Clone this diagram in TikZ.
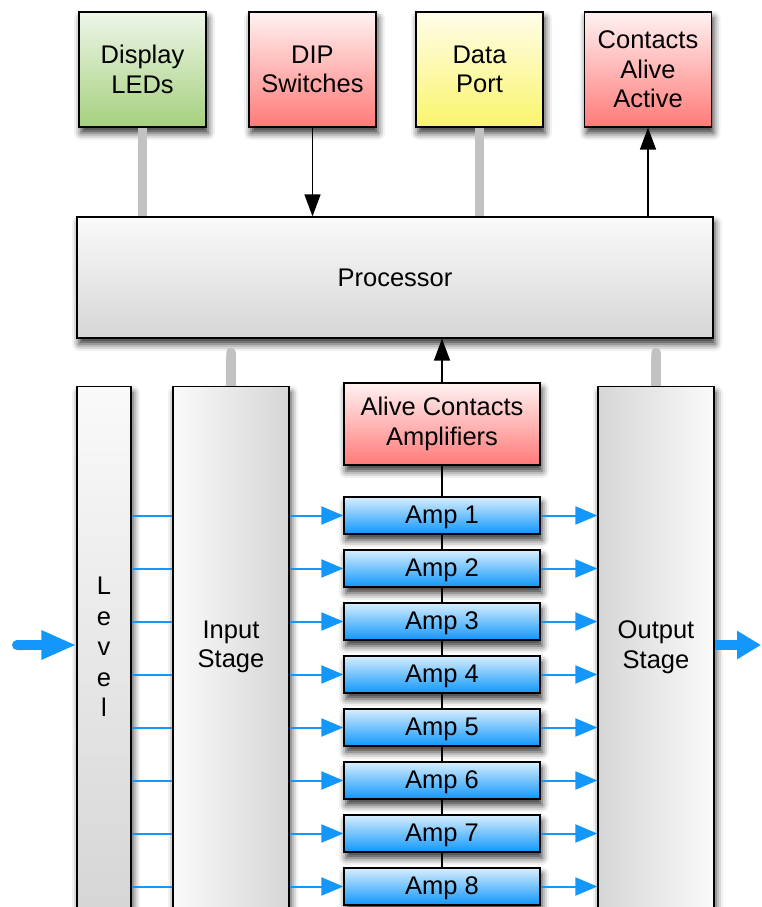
\documentclass[tikz,border=0pt]{standalone}
\usepackage{fontspec}
\setmainfont{Liberation Sans}
\usetikzlibrary{arrows.meta,shadows.blur}

\definecolor{ledtop}{HTML}{EEF6E9}
\definecolor{ledbot}{HTML}{A5D07D}
\definecolor{redtop}{HTML}{FFF2F2}
\definecolor{redbot}{HTML}{FF7A78}
\definecolor{yeltop}{HTML}{FFFDEA}
\definecolor{yelbot}{HTML}{FAF56B}
\definecolor{graytop}{HTML}{FAFAFA}
\definecolor{graybot}{HTML}{D6D6D6}
\definecolor{amptop}{HTML}{D8EEFE}
\definecolor{ampbot}{HTML}{0F97FC}
\definecolor{sigblue}{HTML}{1497FB}
\definecolor{bargray}{HTML}{C2C2C2}

\tikzset{
  box/.style={draw=black, line width=1.2pt, align=center, inner sep=2pt,
    font=\fontsize{25.5}{29.5}\selectfont,
    blur shadow={shadow xshift=2pt, shadow yshift=-6pt, shadow blur radius=7pt, shadow opacity=80}},
  topbox/.style={box, minimum width=127pt, minimum height=115pt},
  stagebox/.style={box, anchor=north, minimum width=116pt, minimum height=521pt},
  ampbox/.style={box, top color=amptop, bottom color=ampbot, minimum width=196pt, minimum height=37pt, text depth=1pt},
  bus/.style={line width=9.5pt, draw=bargray},
  sig/.style={line width=2pt, draw=sigblue},
  sigarrow/.style={sig, -{Triangle[length=22pt,width=18pt]}},
  ctl/.style={line width=1.4pt, -{Triangle[length=22pt,width=16pt]}},
  bigarrow/.style={line width=10pt, draw=sigblue, fill=sigblue}
}

\begin{document}
\begin{tikzpicture}[x=1pt,y=-1pt]
    \useasboundingbox (0,0) rectangle (761,907);

    % Peripherals
    \node[topbox, top color=ledtop, bottom color=ledbot] (leds) at (142.5,69.5) {Display\\LEDs};
    \node[topbox, top color=redtop, bottom color=redbot] (dip) at (312.5,69.5) {DIP\\Switches};
    \node[topbox, top color=yeltop, bottom color=yelbot] (port) at (479.5,69.5) {Data\\Port};
    \node[topbox, top color=redtop, bottom color=redbot] (alive) at (648,69.5) {Contacts\\Alive\\Active};

    % Processor
    \node[box, top color=graytop, bottom color=graybot, minimum width=636pt, minimum height=121pt] (proc) at (395,277.5) {Processor};

    % Stages
    \node[stagebox, minimum width=54pt, top color=graytop, bottom color=graybot,
        font=\fontsize{25.5}{30.5}\selectfont] (lvl) at (104,386) {L\\e\\v\\e\\l};
    \node[stagebox, left color=graytop, right color=graybot] (inp) at (231,386) {Input\\Stage};
    \node[stagebox, left color=graybot, right color=graytop] (outp) at (656,386) {Output\\Stage};

    % Amplifiers
    \node[box, top color=redtop, bottom color=redbot, minimum width=196pt, minimum height=82pt] (aca) at (442,424) {Alive Contacts\\Amplifiers};
    \foreach \i in {1,...,8}
        \node[ampbox] (amp\i) at (442,{515.5+53*(\i-1)}) {Amp \i};

    % Amp chain
    \draw[line width=1.4pt] (aca) -- (amp1);
    \foreach \i [count=\j from 2] in {1,...,7}
        \draw[line width=1.4pt] (amp\i) -- (amp\j);

    % Signal paths
    \foreach \i in {1,...,8} {
        \draw[sig] (lvl.east |- amp\i) -- (inp.west |- amp\i);
        \draw[sigarrow] (inp.east |- amp\i) -- (amp\i.west);
        \draw[sigarrow] (amp\i.east) -- (outp.west |- amp\i);
    }

    % Input and output
    \coordinate (src) at (12,645);
    \coordinate (dst) at (761,645);
    \draw[bigarrow, {Round Cap}-{Triangle[length=35pt,width=27pt]}] (src) -- (lvl.west |- src);
    \draw[bigarrow, -{Triangle[length=24pt,width=27pt]}] (outp.east |- dst) -- (dst);

    % Buses
    \coordinate (pb) at ([yshift=-9pt]proc.south);
    \draw[bus] (leds) -- (leds |- proc.north);
    \draw[bus] (port) -- (port |- proc.north);
    \draw[bus, {Round Cap}-] (pb -| inp.north) -- (inp.north);
    \draw[bus, {Round Cap}-] (pb -| outp.north) -- (outp.north);

    % Control lines
    \draw[ctl] (dip) -- (dip |- proc.north);
    \draw[ctl] (proc.north -| alive) -- (alive);
    \draw[ctl] (aca) -- (aca |- proc.south);
\end{tikzpicture}
\end{document}
